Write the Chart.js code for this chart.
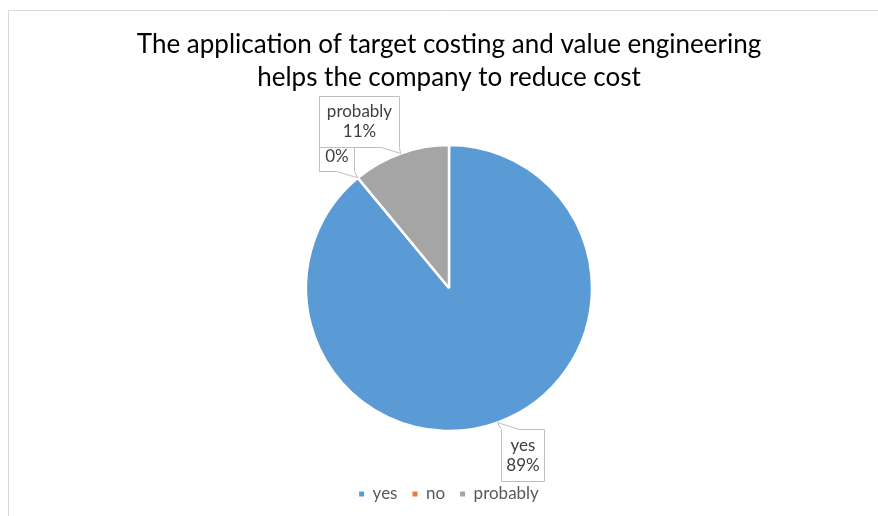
<!DOCTYPE html>
<html>
<head>
<meta charset="utf-8">
<script src="https://cdn.jsdelivr.net/npm/chart.js@4"></script>
<style>
  html, body { margin: 0; padding: 0; background: #fff; }
</style>
</head>
<body>
<canvas id="myChart" width="878" height="516"></canvas>
<script>
const categories = ['yes', 'no', 'probably'];
const shares = [89, 0, 11];
const sliceColors = ['#5B9BD5', '#ED7D31', '#A5A5A5'];
const titleLines = ['The application of target costing and value engineering', 'helps the company to reduce cost'];

const FONT = 'Lato, "Open Sans", sans-serif';

// callout box for each slice: offset of the box centre from the slice tip, and box size
const callouts = [
  {dx: 25.5, dy: 32, w: 43, h: 52},
  {dx: -21.5, dy: -31.5, w: 35, h: 50},
  {dx: -42, dy: -32, w: 80, h: 51}
];

// thin grey frame on the left and top like the original chart border
const frame = {
  id: 'frame',
  beforeDraw(chart) {
    const c = chart.ctx;
    c.save();
    c.fillStyle = '#fff';
    c.fillRect(0, 0, chart.width, chart.height);
    c.strokeStyle = '#d9d9d9';
    c.lineWidth = 1;
    c.beginPath();
    c.moveTo(8.5, chart.height);
    c.lineTo(8.5, 10.5);
    c.lineTo(chart.width, 10.5);
    c.stroke();
    c.restore();
  }
};

// data labels in boxes with a pointer to the slice
const calloutLabels = {
  id: 'calloutLabels',
  afterDatasetsDraw(chart) {
    const c = chart.ctx;
    const values = chart.data.datasets[0].data;
    const total = values.reduce((a, b) => a + b, 0);
    chart.getDatasetMeta(0).data.forEach((arc, i) => {
      const p = arc.getProps(['x', 'y', 'startAngle', 'endAngle', 'outerRadius'], true);
      const mid = (p.startAngle + p.endAngle) / 2;
      const tx = p.x + Math.cos(mid) * p.outerRadius;
      const ty = p.y + Math.sin(mid) * p.outerRadius;
      const box = callouts[i];
      const cx = tx + box.dx, cy = ty + box.dy;
      const L = Math.round(cx - box.w / 2) + 0.5, R = L + box.w;
      const T = Math.round(cy - box.h / 2) + 0.5, B = T + box.h;
      const bx = Math.min(Math.max(tx, L + 9), R - 9);

      c.save();
      c.beginPath();
      if (ty > B) {
        c.moveTo(L, T); c.lineTo(R, T); c.lineTo(R, B);
        c.lineTo(bx + 9, B); c.lineTo(tx, ty); c.lineTo(bx - 9, B);
        c.lineTo(L, B);
      } else {
        c.moveTo(L, T); c.lineTo(bx - 9, T); c.lineTo(tx, ty);
        c.lineTo(bx + 9, T); c.lineTo(R, T); c.lineTo(R, B); c.lineTo(L, B);
      }
      c.closePath();
      c.fillStyle = '#fff';
      c.fill();
      c.strokeStyle = '#bfbfbf';
      c.lineWidth = 1;
      c.stroke();

      c.fillStyle = '#404040';
      c.font = '17px ' + FONT;
      c.textAlign = 'center';
      c.textBaseline = 'middle';
      const pct = Math.round(values[i] / total * 100) + '%';
      c.fillText(chart.data.labels[i], (L + R) / 2, (T + B) / 2 - 10);
      c.fillText(pct, (L + R) / 2, (T + B) / 2 + 10);
      c.restore();
    });
  }
};

const ctx = document.getElementById('myChart');

new Chart(ctx, {
  type: 'pie',
  data: {
    labels: categories,
    datasets: [{
      data: shares,
      backgroundColor: sliceColors,
      borderColor: '#fff',
      borderWidth: 2.5,
      radius: 143
    }]
  },
  options: {
    responsive: false,
    animation: false,
    layout: { padding: { left: 20, bottom: 3.5 } },
    plugins: {
      title: {
        display: true,
        text: titleLines,
        color: '#000',
        font: { family: FONT, size: 26, weight: 'normal', lineHeight: 1.27 },
        padding: { top: 28.5, bottom: 11 }
      },
      legend: {
        position: 'bottom',
        labels: {
          boxWidth: 5,
          boxHeight: 5,
          padding: 15,
          color: '#595959',
          font: { family: FONT, size: 17 },
          generateLabels: (chart) => Chart.overrides.pie.plugins.legend.labels.generateLabels(chart)
            .map(l => ({ ...l, lineWidth: 0, strokeStyle: 'rgba(0,0,0,0)' }))
        }
      },
      tooltip: { enabled: false }
    }
  },
  plugins: [frame, calloutLabels]
});
</script>
</body>
</html>
